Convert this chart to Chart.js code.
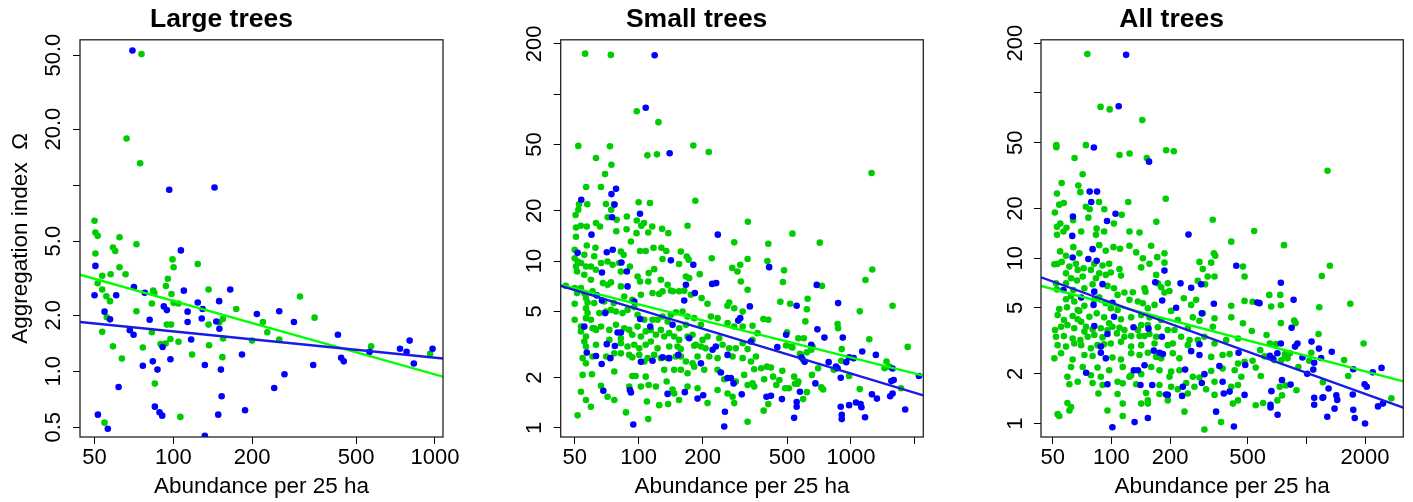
<!DOCTYPE html>
<html>
<head>
<meta charset="utf-8">
<script src="https://cdn.jsdelivr.net/npm/chart.js@4.4.0/dist/chart.umd.min.js"></script>
<style>
  body { margin: 0; background: #fff; }
  #wrap { position: relative; width: 1413px; height: 502px; }
  canvas { position: absolute; top: 0; }
</style>
</head>
<body>
<div id="wrap">
  <canvas id="large" width="470" height="502" style="left:0px"></canvas>
  <canvas id="small" width="470" height="502" style="left:470px"></canvas>
  <canvas id="all" width="473" height="502" style="left:940px"></canvas>
</div>
<script>
// ---- data: [abundance, omega] ----
const largeGreen = [[75.6,50.6],[66.3,17.8],[74.7,13.1],[50,6.43],[50.4,5.56],[51.4,5.34],[62.3,5.25],[50.4,4.29],[72.3,4.81],[58.8,4.62],[60,4.43],[62.3,3.62],[65.7,3.32],[57.6,3.32],[53.5,3.26],[99.3,3.99],[100.3,3.62],[124,3.77],[95.3,3.14],[51.4,2.97],[53.5,2.75],[93.7,2.87],[136.4,2.75],[83.8,2.71],[84.6,2.63],[98.4,2.6],[55.5,2.53],[305,2.52],[57.3,2.38],[82.8,2.31],[100.3,2.33],[104.7,2.31],[174,2.16],[72.3,2.1],[55.7,1.95],[346.6,1.94],[154.7,1.91],[136.4,1.78],[150,1.83],[220,1.84],[94.5,1.78],[98,1.78],[82.8,1.62],[53.5,1.63],[228.6,1.62],[155,1.5],[254,1.48],[200,1.46],[104.7,1.44],[97.5,1.49],[89.4,1.4],[93.5,1.41],[137,1.38],[58.8,1.36],[76.5,1.34],[570,1.36],[958,1.24],[118,1.23],[63.6,1.17],[154,1.19],[85,0.858],[106.4,0.568],[54.6,0.529]];
const largeBlue = [[69.8,52.9],[96.5,9.44],[143.7,9.71],[106.9,4.46],[50.4,3.68],[70.7,2.83],[109.7,2.71],[165,2.75],[77.8,2.64],[50,2.56],[60.5,2.56],[149.7,2.38],[124,2.34],[92,2.23],[94.5,2.13],[129.4,2.16],[54.6,2.09],[113.4,2.09],[208.6,2.03],[254,2.1],[57.3,1.9],[81.2,1.89],[128.4,1.92],[289,1.84],[113.4,1.84],[146,1.85],[150,1.69],[68.2,1.66],[70.5,1.57],[425.6,1.57],[117,1.48],[91,1.35],[735,1.32],[800,1.46],[779,1.27],[979,1.32],[562,1.27],[183,1.23],[97.5,1.16],[438,1.18],[448,1.13],[83.5,1.13],[76.5,1.07],[132,1.08],[342.5,1.08],[830,1.1],[87,1.02],[152,1.02],[266,0.963],[61.8,0.823],[243,0.813],[153,0.733],[85,0.645],[188,0.617],[88.6,0.601],[90.7,0.577],[51.5,0.584],[148.5,0.584],[56.2,0.491],[132,0.45]];

const smallGreen = [[56,175],[74,172],[98,79],[124,68],[52,49],[73.3,48.8],[181,49.3],[214,45],[110,43],[122,43.6],[63,41.5],[74.5,37.8],[69.5,33.2],[1250,33.7],[56.6,27.8],[66.5,27.8],[52.4,21.9],[57.3,21.9],[70.2,22],[76.6,21.9],[100,22.5],[113,22.3],[185,23],[74.3,20.3],[50.5,18.9],[52,20.3],[71.5,18.3],[78.8,17.7],[88,18.5],[50.7,15.9],[53.4,16.3],[57,16.1],[63,16.9],[65.8,16.1],[98,17.5],[106,16.9],[116,16.1],[129,15.6],[170,16.3],[103,16.3],[327,17.2],[87.8,15.5],[530,14.6],[713,12.9],[408,12.7],[404,10],[1260,8.9],[1170,7.7],[1570,5.4],[1100,5],[1220,3.4],[1850,3.06],[1470,2.5],[1440,2.28],[1720,1.73],[870,3.96],[865,4.2],[905,2.97],[900,2.53],[980,2.05],[730,7.1],[625,5.95],[620,5.15],[610,4.35],[620,2.84],[620,1.64],[600,3.45],[565,3.45],[595,2.56],[565,1.9],[1100,1.71],[1514,2.33],[655,2.08],[725,1.75],[830,2.23],[660,3.07],[700,2.28],[650,2.94],[595,1.49],[740,1.7],
  [378,2.28],[390,1.96],[388,1.27],[387,4.5],[408,4.45],[402,2.33],[408,1.39],[420,2.3],[430,2.03],[445,1.81],[460,1.94],[475,2.2],[490,1.73],[510,1.73],[465,5.7],[478,7.5],[484,8.8],[500,3.75],[495,3.12],[525,3.07],[517,5.55],[540,2.03],[560,1.84],[530,3.04],[575,2.78],[580,2.75],[545,1.84],
  [50.7,14],[78.5,15.1],[97.7,14.7],[111,14.85],[138,14.7],[282,12.95],[57,12.4],[50,11.7],[62.6,12],[61.8,10.7],[82.5,11.4],[85,10.9],[92,13.1],[101.6,11.5],[108,11.5],[117.5,12],[128,12],[135,11.5],[158,11.4],[168.5,10.65],[172,10.2],[221,10.4],[326,10.3],
  [50,10.4],[51.6,9.95],[50.7,9.29],[53.5,9.73],[55.5,10.9],[56.5,9.29],[59.6,9.29],[62.9,8.87],[66.5,9.73],[71.4,9.95],[75.4,9.5],[81,9.73],[82.5,8.67],[91,9.29],[98.9,8.09],[111.5,8.47],[118.4,8.95],[129.6,10.3],[155,9.6],[194,8.35],[276,9.1],[292,8.67],[301,9.5],
  [51.3,8.67],[55.5,8.28],[59.6,7.73],[67.9,7.38],[71.4,7.21],[74.1,7.45],[82.5,7.05],[101.6,7.55],[111,7.55],[127.3,7.73],[137,7.21],[145,6.6],[155,6.6],[167,8.09],[173,7.9],[303,7.55],[326,6.73],
  [45.4,7.1],[50,6.9],[53.5,6.9],[51.3,6.43],[55.5,6.43],[60.7,6.58],[56.5,6],[57.5,5.65],[61.8,5.6],[68.9,5.73],[76.3,5.6],[85.6,6.14],[93.4,5.86],[102.5,6.28],[116.3,6.43],[125,6.36],[129.6,6.58],[141.9,6.65],[164,6.65],[176.3,6.28],[198,6],[211,5.55],[262,5.4],[282,5.22],[267,5.65],[309,4.98],
  [50,5.55],[56.5,5.22],[57.5,4.88],[56.5,4.55],[50,4.45],[59.6,4.45],[53.5,4.05],[61.8,3.96],[65.3,4.88],[70.1,4.99],[74.1,5.1],[78.2,4.99],[84,4.88],[88.7,5.1],[95.4,5.3],[98.9,4.77],[106.3,4.45],[116.3,4.45],[122.8,4.45],[129.6,4.66],[137,4.35],[141.9,4.77],[149.8,4.93],[161,4.99],[170,4.66],[182.8,4.55],[155.4,3.96],[167,4.15],[196.5,4.15],[219,4.66],[235.4,4.55],[262.3,4.25],[282,4.05],[309,4.05],[344,4.1],
  [53.5,3.79],[56.5,3.53],[55.5,3.3],[60.7,3.96],[63,3.87],[66.5,4.05],[72.8,3.87],[78.2,4.15],[85.6,3.96],[90.3,3.87],[93.4,3.62],[98.9,4.05],[102.5,3.53],[108,3.79],[114.2,3.87],[120.6,3.62],[127.3,3.87],[132,3.53],[139.4,3.7],[147.1,3.53],[155.3,3.37],[170,3.53],[179.5,3.62],[186,3.15],[200,3.37],[211.2,3.53],[239.7,3.45],[248.5,3.15],[267,3],[287,3],[309,3.22],[344,3.37],[363,3.7],
  [56.5,3.08],[63,3.15],[72.8,3.37],[82.5,3.22],[88.7,3.08],[82.5,3.45],[95.4,3.15],[100.7,3],[108,3.15],[114.2,3.3],[122.8,3],[139.4,3.08],[152.5,3.08],[158,2.97],[182.8,3.11],[196.5,3.08],[206.6,3],[326,2.97],
  [54.5,2.62],[56.5,2.44],[60.7,2.68],[70.4,2.68],[76.8,2.8],[82.5,2.8],[90.3,2.74],[93.4,2.65],[100.7,2.74],[106.3,2.5],[110.2,2.62],[118.4,2.74],[127.3,2.62],[136.9,2.62],[149.8,2.68],[158.2,2.68],[167,2.5],[179.5,2.44],[189.5,2.68],[215,2.68],[235.4,2.62],[277,2.68],[309,2.62],[338,2.5],[357,2.68],
  [54.5,2.08],[60.3,2.1],[76.8,2.18],[93.4,2.05],[96.8,2.05],[108,2.03],[132,2.23],[147,2.23],[158,2.23],[170,2.13],[182.8,2.33],[203.7,2.23],[235.4,2.23],[253,1.96],[287,1.9],[314,2.08],[350,2.25],[344,1.85],
  [66.5,1.79],[71.4,1.54],[90.3,1.77],[102.5,1.77],[111.5,1.81],[120.6,1.77],[135.5,1.9],[144.5,1.7],[147.1,1.61],[170,1.77],[189.5,1.73],[211.2,1.41],[235.4,1.69],[262.3,1.61],[277,1.54],[326,1.81],[350.3,1.77],
  [53.5,1.65],[56.5,1.47],[59.6,1.34],[76.8,1.47],[109.4,1.44],[125,1.37],[137.7,1.39],[155,1.47],[282,1.41],[51.6,1.19],[87.2,1.24],[111,1.13],[326,1.09]];
const smallBlue = [[119,171],[108,83],[140,44.3],[78.3,27.1],[74.5,25.2],[53.7,23.3],[77,21.8],[101.5,19.2],[75,18.3],[412,9.2],[2090,2.05],[1570,2.27],[1310,2.74],[1130,2.87],[1030,2.62],[980,2.65],[950,2.48],[915,3.48],[870,5.6],[865,2.28],[895,2],[785,2.48],[750,3.48],[695,3.9],[690,7.2],[650,3.15],[605,2.49],[575,1.65],[555,1.34],[555,1.43],[540,1.15],[895,1.34],[905,1.2],[905,1.13],[980,1.37],[1056,1.42],[1110,1.39],[1120,1.33],[1165,1.16],[1255,1.59],[1325,1.5],[1530,1.55],[1570,1.61],[1590,1.94],[1550,1.91],[1800,1.29],[850,2.33],[680,1.85],[400,1.54],[420,1.56],[450,3.05],[473,1.49],[495,3.62],[555,5.4],[585,2.64],
  [60,14.4],[236,14.4],[70.8,11.3],[75.5,11.7],[51.6,11.2],[83,9.8],[88,8.67],[141.9,10.1],[181,9.5],[67.2,8.55],[88.7,7.05],[167,7.21],[222,7.3],[232,7.38],[63.6,6.23],[67.2,5.81],[95.4,5.73],[184,6.43],[164,5.81],[334,5.35],[55.5,4.05],[69.6,4.88],[101.7,4.5],[113.4,4.05],[144.5,4.15],[294.5,4.4],[301,4.55],[79.6,3.73],[82.5,3.73],[173,3.45],[231,3.08],[223,2.94],[338,3.3],[70.8,3.18],[77.3,3.1],[57,2.83],[63,2.7],[67,2.42],[73.6,2.62],[102.5,2.49],[116.3,2.53],[129.6,2.65],[139.4,2.62],[153.7,2.74],[196.5,2.44],[262.3,2.74],[244,2.15],[262.3,1.99],[272,1.99],[280,1.85],[68.2,1.67],[91,1.69],[92,1.63],[136.9,1.6],[165,1.64],[189.5,1.5],[201.4,1.57],[306,1.59],[94.4,1.05],[255,1.25],[253,1.02]];

const allGreen = [[75.3,172],[88,82.3],[98,79.5],[144,68.5],[52.2,48.3],[52.2,47],[74,48.3],[110,42.1],[124,43],[191,45],[209,44.4],[152,40.4],[64.7,40.4],[71.2,32.2],[1284,33.8],[67.7,27.5],[55.6,28.5],[52.6,24.6],[69.3,25.1],[54,21.1],[57,21.6],[74,20.5],[77.4,19.8],[86.5,21.9],[122,21.9],[190,22.9],[51.3,18.9],[76.2,17.6],[92,19.8],[113,18.3],[103,16.2],[170,16.6],[52.6,15.5],[54.7,16.2],[58.8,15.3],[63.6,17],[84,15.1],[331,17.1],[540,14.6],[768,12],[1320,9],[1200,7.8],[1165,5.05],[1680,5.3],[1966,3.05],[1562,2.42],[1640,1.94],[2730,1.42],[1155,3.48],[866,4.2],[880,4.05],[890,1.59],[910,2.2],[823,2.66],[800,2.6],[800,2.48],[1060,2.68],[1035,2.4],[1215,1.78],[740,4.05],[740,5.2],[735,6],[645,6],[660,5.1],[625,3.43],[650,3.05],[700,3.03],[684,2.42],[745,2.42],[776,2.62],[785,1.7],[730,1.67],[750,1.48],[710,1.38],[580,2.78],[584,1.94],[550,2.18],[550,1.29],[600,1.33],[610,2.55],[530,2.4],[525,3.63],[530,5.45],
  [52.6,13.85],[56.8,14.5],[70,14.5],[83.3,13.85],[91.8,14.5],[123.8,14.5],[139.4,14.3],[412,12.6],
  [63.8,11.67],[54.6,11],[58.5,10.35],[53,9.25],[51,9.2],[55.6,9.5],[68.5,10.7],[86.6,12],[93.6,11.1],[102.5,11.67],[110.8,11.4],[123.8,11.9],[134,10.85],[160,11.9],[187.2,10.7],[145,10],[156.8,9.25],[171.8,10.15],[335.5,10.7],[340.9,10.35],
  [60.9,8.9],[65.8,9.25],[67.2,8.5],[72.1,8.7],[58.5,8.1],[62.1,7.57],[71.3,7.75],[78.5,8.5],[81.7,9.25],[90.1,9.03],[97.4,9.25],[86.6,8.1],[93.6,7.93],[99.3,8.2],[110,8.6],[112,7.85],[83.3,7.57],[142.2,8.8],[169.7,7.93],[187.2,9.4],[283,9.5],[325,9.4],[294.4,8.6],[473,8.9],[482,7.75],[312,7.75],[338,7.75],
  [52,7.05],[58.5,7.05],[66.6,7.34],[80.1,6.95],[52.6,6.48],[63.8,6.43],[72.7,6.58],[95.5,6.8],[103.2,6.58],[116.6,6.2],[107.6,6],[128.8,6.22],[147.9,6.58],[149.6,6.28],[173.1,7.05],[180,6.67],[194.7,7.05],[198.6,6.34],[187.2,6.2],[277.5,7.3],[302.5,6.95],[272.2,5.6],[235.3,5.73],
  [62.1,5.9],[58.5,5.65],[64.5,5.47],[54,4.93],[59.2,5.05],[67.2,4.86],[72.7,5.15],[81.7,5.6],[86.6,5.8],[93.6,5.34],[99.3,4.98],[107.6,4.86],[123.8,5.6],[136.7,5.47],[145,5.34],[153.8,4.98],[166.5,5.22],[202.5,4.8],[256.6,5.22],[412,5.15],[482,5.52],
  [53,4.53],[57.1,4.23],[63.3,4.47],[68.5,4.8],[70,4.13],[67.2,4.27],[77.1,4.43],[84.1,4.64],[91.8,4.39],[112,4.27],[97.4,4.04],[110,3.8],[126.3,4.39],[142.2,4.53],[156.8,4.39],[173.1,3.82],[180,4.23],[219.1,4.23],[261.6,4.39],[283,4.19],[294.4,4.64],[338,4.33],[412,4.39],[473,4.04],
  [51.4,3.68],[55.2,3.85],[59.5,3.94],[64.5,3.77],[74.2,3.85],[80.1,3.71],[88.3,3.77],[95.5,3.68],[101.2,3.85],[116.6,3.68],[136.7,3.68],[142.2,3.94],[153.8,3.94],[194.7,3.68],[210.6,3.68],[246.6,3.77],[331.5,3.85],
  [52,3.35],[57.1,3.38],[63.3,3.27],[69.3,3.2],[72.7,3.6],[75.6,3.35],[81.7,3.43],[90.1,3.32],[106.8,3.51],[116.6,3.35],[126.3,3.38],[139.4,3.38],[147.9,3.38],[156.8,3.48],[169.7,3.35],[227.9,3.35],[251.7,3.2],[277.5,3.2],[300,3.35],[388,3.2],[446,3.27],
  [53,2.98],[58.5,2.92],[64.5,3.05],[70,2.98],[78.5,2.85],[84.9,2.98],[91.8,3.02],[99.3,3.05],[112,3.12],[126.3,2.92],[142.2,2.98],[166.5,3.05],[194.7,2.98],[206.5,3.05],[246.6,2.98],[338,3.05],
  [51,2.48],[55.2,2.66],[63.3,2.44],[72.7,2.6],[80.1,2.56],[101.2,2.51],[112,2.44],[126.3,2.66],[139.4,2.6],[153.8,2.68],[169.7,2.53],[180,2.48],[206.5,2.66],[223.4,2.48],[325,2.53],[372,2.6],[404,2.63],[446,2.31],[482,2.36],
  [62.1,2.2],[71.3,2.2],[84.9,2.18],[97.4,2.1],[114.3,2.2],[126.3,1.96],[160,2.2],[176.5,2.1],[198.6,1.92],[202.5,2.06],[223.4,2.1],[261.6,1.92],[283,1.9],[325,2.08],[372,2.15],[429,2.1],[464,1.92],
  [59.5,1.92],[67.2,1.79],[78.5,1.96],[88.3,1.92],[107.6,1.79],[123.8,1.92],[142.2,1.99],
  [60.9,1.73],[80.1,1.76],[90.1,1.71],[114.3,1.75],[134,1.73],[176.5,1.71],[202.5,1.67],[241.9,1.76],[266.8,1.67],[306,1.61],[338,1.79],[412,1.67],[446,1.71],
  [85.8,1.52],[107.6,1.51],[150.8,1.53],[176.5,1.51],[219.1,1.61],[246.6,1.52],[338,1.49],[446,1.38],[420,1.32],
  [59.5,1.33],[62.1,1.26],[60.9,1.2],[95.5,1.2],[114.3,1.32],[142.2,1.32],[153.8,1.38],[153.8,1.32],[194.7,1.38],[237,1.18],[53,1.14],[54,1.11],[114.3,1.11],[365,1.02],[300,0.92]];
const allBlue = [[119,170],[109,83],[81.3,46.8],[156,38.4],[77.4,25.3],[84.4,25.3],[78.8,21.9],[105,18.6],[95,16.8],[63.5,17.9],[2190,2.04],[2430,2.17],[1740,2.13],[1990,1.73],[2040,1.67],[1730,1.5],[1740,1.21],[1770,1.08],[2000,1],[2330,1.27],[2470,1.32],[1395,1.23],[1425,1.48],[1440,1.39],[1280,1.1],[1220,1.44],[1300,1.63],[1097,1.3],[1097,1.43],[1210,1.43],[1350,2.72],[1190,2.49],[1160,2.84],[1063,3.13],[1097,2.33],[1085,2.12],[955,2.51],[1010,2],[900,3.05],[875,2.92],[840,3.8],[860,5.6],[740,7.1],[740,3.05],[710,2.66],[750,1.83],[712,1.13],[662,1.57],[655,1.25],[655,1.3],[672,2.48],[650,2.57],[830,1.72],[560,5.4],[575,5.35],
  [63,13.65],[248.6,13.9],[63.3,10.1],[80.1,11.35],[76.2,9.9],[84.1,9.65],[187.2,8.42],[437,9],[90.1,6.97],[81.7,6.28],[56.8,6.43],[167.9,7.15],[226.2,7.05],[256.6,6.63],[288.6,6.95],[70,5.78],[81,5.22],[101.2,5.38],[182.2,5.55],[214.8,5.02],[335.5,5.3],[290.9,4.64],[103.2,4.43],[81.7,3.89],[129.9,3.82],[155,3.75],[95.5,3.48],[181.5,3.35],[88.3,2.92],[283,3.02],[88.3,2.68],[93.6,2.48],[165,2.76],[176.5,2.68],[183.6,2.63],[256.6,2.74],[283,2.6],[449,2.68],[130.4,2.1],[136.7,2.1],[147.9,2.25],[238.9,2.12],[300,1.99],[358,2.23],[486,2.26],[74.2,2.03],[95.5,1.73],[141,1.71],[162,1.71],[232.3,1.67],[290.9,1.76],[372,1.79],[190.9,1.5],[194.7,1.49],[230.5,1.47],[377,1.52],[404,1.56],[482,1.49],[344.4,1.18],[131.5,1.02],[153.8,1.08],[101.2,0.95],[425,0.96]];

// fitted lines, read at the two ends of each x axis
const largeFitX = [44, 1073];
const largeFitGreen = [3.3, 0.935];
const largeFitBlue = [1.84, 1.17];
const smallFitX = [42.96, 2191];
const smallFitGreen = [7.21, 2.06];
const smallFitBlue = [7.11, 1.57];
const allFitX = [43.55, 3142];
const allFitGreen = [6.79, 1.8];
const allFitBlue = [7.67, 1.25];

// axis ranges and ticks
const largeXRange = [44, 1073], largeYRange = [0.443, 60.4];
const smallXRange = [42.96, 2191], smallYRange = [0.883, 211.8];
const allXRange = [43.55, 3142], allYRange = [0.829, 209.6];

const largeXTicks = [50, 100, 200, 500, 1000];
const largeXLabels = ["50", "100", "200", "500", "1000"];
const largeYTicks = [0.5, 1, 2, 5, 10, 20, 50];
const largeYLabels = ["0.5", "1.0", "2.0", "5.0", "", "20.0", "50.0"];
const smallXTicks = [50, 100, 200, 500, 1000, 2000];
const smallXLabels = ["50", "100", "200", "500", "1000", ""];
const smallYTicks = [1, 2, 5, 10, 20, 50, 100, 200];
const smallYLabels = ["1", "2", "5", "10", "20", "50", "", "200"];
const allXTicks = [50, 100, 200, 500, 1000, 2000];
const allXLabels = ["50", "100", "200", "500", "", "2000"];
const allYTicks = [1, 2, 5, 10, 20, 50, 100, 200];
const allYLabels = ["1", "2", "5", "10", "20", "50", "", "200"];

const FONT = "'Liberation Sans', Arial, sans-serif";
const ptGreen = "#00cd00";
const ptBlue = "#0000ff";
const lnGreen = "#00ff00";
const lnBlue = "#1a1ae6";

// draws the R-style box around the plot region
const boxPlugin = {
  id: "box",
  afterDraw(chart) {
    const a = chart.chartArea;
    const ctx = chart.ctx;
    ctx.save();
    ctx.strokeStyle = "#222";
    ctx.lineWidth = 1.3;
    ctx.strokeRect(a.left, a.top, a.right - a.left, a.bottom - a.top);
    ctx.restore();
  }
};

function fitLine(xs, ys) {
  return xs.map((x, i) => ({ x: x, y: ys[i] }));
}

function makePanel(id, p) {
  new Chart(document.getElementById(id), {
    type: "scatter",
    plugins: [boxPlugin],
    data: {
      datasets: [
        { data: fitLine(p.fitX, p.fitBlue), showLine: true, borderColor: lnBlue, borderWidth: 2.4, pointRadius: 0, order: 0 },
        { data: fitLine(p.fitX, p.fitGreen), showLine: true, borderColor: lnGreen, borderWidth: 2.4, pointRadius: 0, order: 1 },
        { data: p.blue, backgroundColor: ptBlue, borderWidth: 0, pointRadius: 3.3, order: 2 },
        { data: p.green, backgroundColor: ptGreen, borderWidth: 0, pointRadius: 3.3, order: 3 }
      ]
    },
    options: {
      responsive: false,
      devicePixelRatio: 1,
      animation: false,
      layout: { padding: { left: 0, right: p.padRight, top: 0, bottom: 0 } },
      plugins: {
        legend: { display: false },
        tooltip: { enabled: false },
        title: {
          display: true,
          text: p.title,
          color: "#000",
          font: { family: FONT, size: 26.5, weight: "bold" },
          padding: { top: 4, bottom: 4 }
        }
      },
      scales: {
        x: {
          type: "logarithmic",
          min: p.xRange[0],
          max: p.xRange[1],
          afterBuildTicks: (s) => { s.ticks = p.xTicks.map(v => ({ value: v })); },
          afterFit: (s) => { s.height = 65; },
          grid: { drawOnChartArea: false, drawTicks: true, tickLength: 7, tickColor: "#000", tickWidth: 1 },
          border: { display: false },
          ticks: {
            autoSkip: false, maxRotation: 0, minRotation: 0, padding: 1,
            color: "#000", font: { family: FONT, size: 22 },
            callback: (v, i) => p.xLabels[i]
          },
          title: {
            display: true, text: "Abundance per 25 ha", color: "#000",
            font: { family: FONT, size: 22.5 }, padding: { top: 0, bottom: 2 }
          }
        },
        y: {
          type: "logarithmic",
          min: p.yRange[0],
          max: p.yRange[1],
          afterBuildTicks: (s) => { s.ticks = p.yTicks.map(v => ({ value: v })); },
          afterFit: (s) => { s.width = p.yWidth; },
          grid: { drawOnChartArea: false, drawTicks: true, tickLength: 7, tickColor: "#000", tickWidth: 1 },
          border: { display: false },
          ticks: {
            autoSkip: false, minRotation: 90, maxRotation: 90, crossAlign: "center", padding: p.yPad,
            color: "#000", font: { family: FONT, size: 22 },
            callback: (v, i) => p.yLabels[i]
          },
          title: {
            display: p.yTitle !== "", text: p.yTitle, color: "#000",
            font: { family: FONT, size: 22.5 }, padding: { top: 7, bottom: 0 }
          }
        }
      }
    }
  });
}

makePanel("large", {
  title: "Large trees", green: largeGreen, blue: largeBlue,
  fitX: largeFitX, fitGreen: largeFitGreen, fitBlue: largeFitBlue,
  xRange: largeXRange, yRange: largeYRange,
  xTicks: largeXTicks, xLabels: largeXLabels, yTicks: largeYTicks, yLabels: largeYLabels,
  yTitle: "Aggregation index  \u03A9", yWidth: 80, yPad: -2.4, padRight: 27
});
makePanel("small", {
  title: "Small trees", green: smallGreen, blue: smallBlue,
  fitX: smallFitX, fitGreen: smallFitGreen, fitBlue: smallFitBlue,
  xRange: smallXRange, yRange: smallYRange,
  xTicks: smallXTicks, xLabels: smallXLabels, yTicks: smallYTicks, yLabels: smallYLabels,
  yTitle: "", yWidth: 90.7, yPad: 0.3, padRight: 16.7
});
makePanel("all", {
  title: "All trees", green: allGreen, blue: allBlue,
  fitX: allFitX, fitGreen: allFitGreen, fitBlue: allFitBlue,
  xRange: allXRange, yRange: allYRange,
  xTicks: allXTicks, xLabels: allXLabels, yTicks: allYTicks, yLabels: allYLabels,
  yTitle: "", yWidth: 101, yPad: -0.3, padRight: 9.7
});
</script>
</body>
</html>
